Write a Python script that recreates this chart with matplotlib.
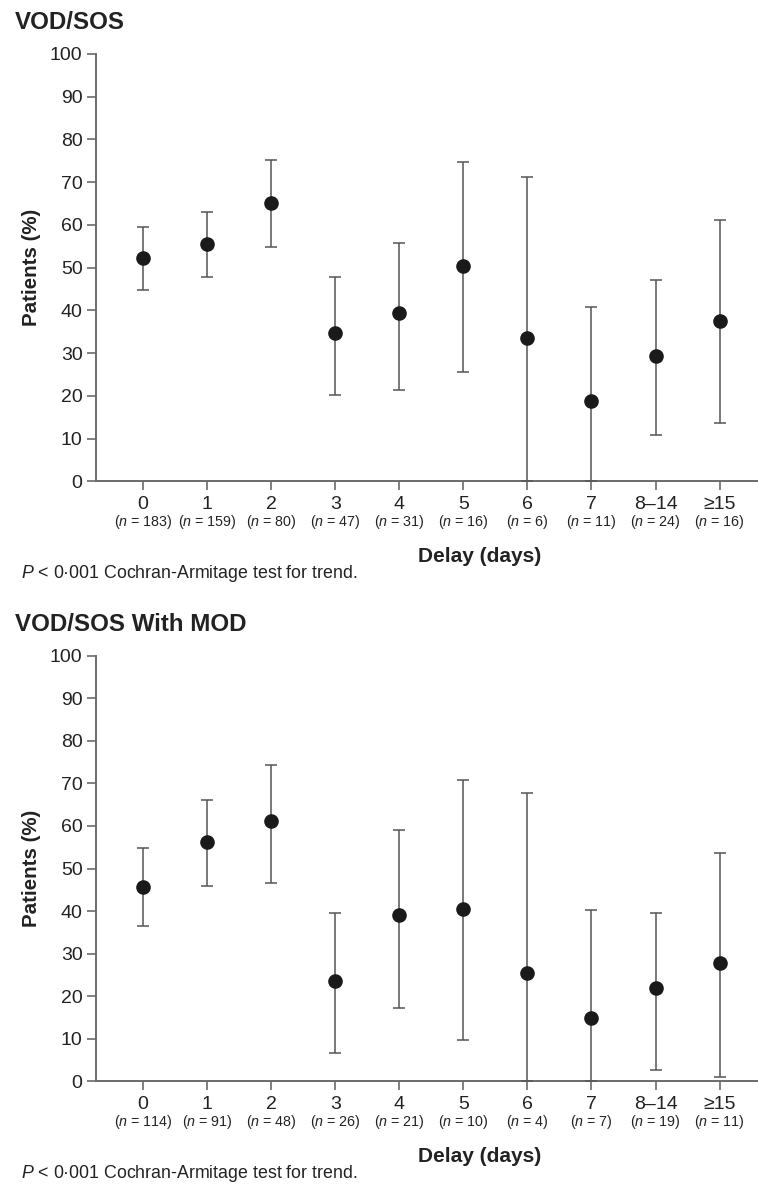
import numpy as np
import matplotlib
matplotlib.use("Agg")
import matplotlib.pyplot as plt

plt.rcParams['font.family'] = ['Liberation Sans', 'DejaVu Sans']
plt.rcParams['mathtext.fontset'] = 'custom'
plt.rcParams['mathtext.it'] = 'Liberation Sans:italic'
plt.rcParams['mathtext.rm'] = 'Liberation Sans'

delay_labels = ['0', '1', '2', '3', '4', '5', '6', '7', '8–14', '≥15']

# VOD/SOS
sos_n = [183, 159, 80, 47, 31, 16, 6, 11, 24, 16]
sos_pct = [52.2, 55.6, 65.1, 34.6, 39.3, 50.5, 33.5, 18.9, 29.3, 37.6]
sos_lo = [44.8, 47.7, 54.8, 20.2, 21.4, 25.5, 0.0, 0.0, 10.8, 13.7]
sos_hi = [59.4, 63.0, 75.2, 47.8, 55.8, 74.7, 71.1, 40.7, 47.1, 61.2]

# VOD/SOS with MOD
mod_n = [114, 91, 48, 26, 21, 10, 4, 7, 19, 11]
mod_pct = [45.7, 56.3, 61.2, 23.6, 39.0, 40.6, 25.4, 14.9, 21.9, 27.7]
mod_lo = [36.6, 46.0, 46.7, 6.7, 17.3, 9.7, 0.0, 0.0, 2.6, 0.9]
mod_hi = [54.8, 66.1, 74.3, 39.6, 59.1, 70.7, 67.8, 40.2, 39.5, 53.7]

W, H = 758, 1184
axis_col = '#6b6b6b'
text_col = '#222222'


def plot_panel(fig, top_px, bottom_px, title, pct, lo, hi, n):
    left_px = 95.7
    ax = fig.add_axes([left_px / W, 1 - bottom_px / H,
                       1 - left_px / W, (bottom_px - top_px) / H])
    x = np.arange(len(pct))
    pct = np.array(pct)
    yerr = [pct - np.array(lo), np.array(hi) - pct]
    ax.errorbar(x, pct, yerr=yerr, fmt='o', color='#1a1a1a', ms=9.5,
                ecolor='#555555', elinewidth=1.1, capsize=4.6, capthick=1.1,
                zorder=3, clip_on=False)

    ax.set_ylim(0, 100)
    ax.set_xlim(-0.74, 9.6)
    ax.set_yticks(np.arange(0, 101, 10))
    ax.set_xticks(x)
    ax.set_xticklabels(delay_labels)
    ax.spines['top'].set_visible(False)
    ax.spines['right'].set_visible(False)
    for s in ['left', 'bottom']:
        ax.spines[s].set_color(axis_col)
        ax.spines[s].set_linewidth(1.4)
    ax.tick_params(direction='out', length=6.5, width=1.2, color=axis_col,
                   labelsize=14, labelcolor=text_col)
    ax.tick_params(axis='x', pad=4)
    ax.tick_params(axis='y', pad=3)

    for i, cnt in enumerate(n):
        ax.annotate('($n$ = %d)' % cnt, xy=(i, 0),
                    xycoords=('data', 'axes fraction'),
                    xytext=(0, -29.5), textcoords='offset points',
                    ha='center', va='center', fontsize=10.3, color=text_col)

    ax.set_ylabel('Patients (%)', fontsize=14.8, fontweight='bold',
                  color=text_col, va='center')
    ax.yaxis.set_label_coords(-64 / (W - left_px), 0.5)
    ax.set_xlabel('Delay (days)', fontsize=15, fontweight='bold',
                  color=text_col, va='center')
    ax.xaxis.set_label_coords(0.58, -75.5 / (bottom_px - top_px))

    fig.text(14.7 / W, 1 - (top_px - 31.3) / H, title, fontsize=17.4,
             fontweight='bold', color=text_col, ha='left', va='center')
    fig.text(21 / W, 1 - (bottom_px + 92) / H,
             '$P$ < 0·001 Cochran-Armitage test for trend.',
             fontsize=12.8, color=text_col, ha='left', va='center')
    return ax


fig = plt.figure(figsize=(W / 100, H / 100), dpi=100)
plot_panel(fig, 54.0, 481.3, 'VOD/SOS', sos_pct, sos_lo, sos_hi, sos_n)
plot_panel(fig, 655.7, 1081.3, 'VOD/SOS With MOD', mod_pct, mod_lo, mod_hi, mod_n)

plt.savefig('out.png', dpi=100)
plt.close()
